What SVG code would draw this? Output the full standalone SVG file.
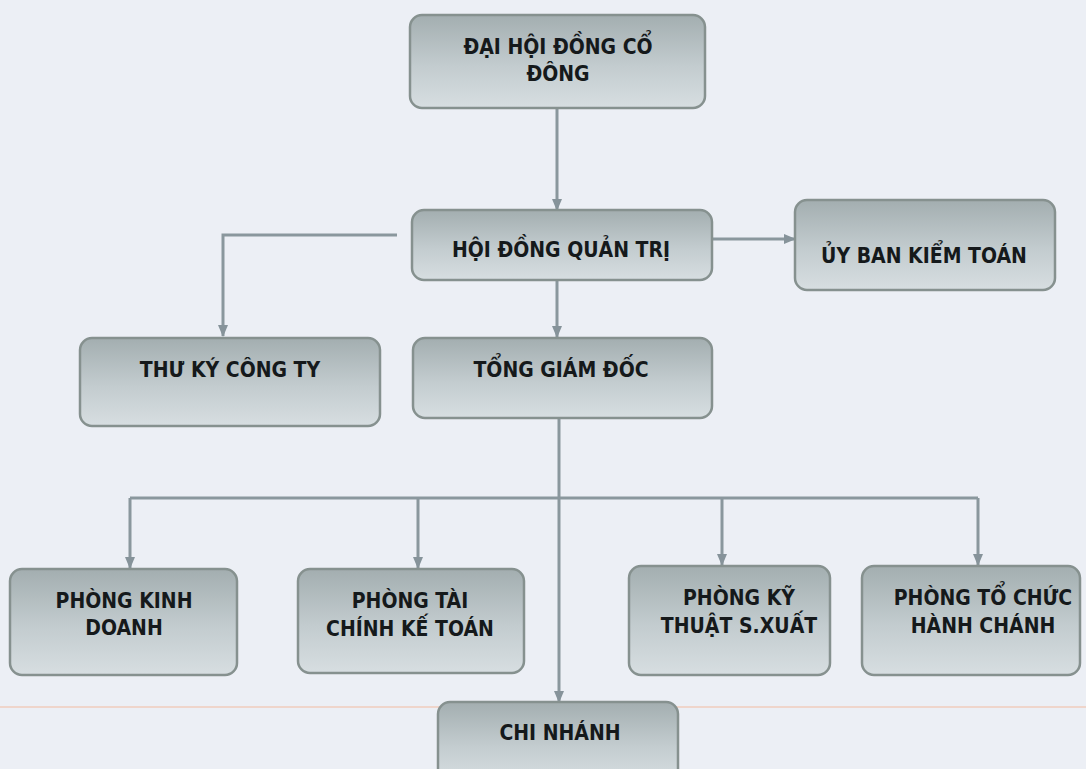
<svg xmlns="http://www.w3.org/2000/svg" width="1086" height="769" viewBox="0 0 1086 769">
<defs>
<linearGradient id="boxg" x1="0" y1="0" x2="0" y2="1">
<stop offset="0" stop-color="#a3aeb0"/>
<stop offset="0.55" stop-color="#c3cccf"/>
<stop offset="1" stop-color="#d7dee1"/>
</linearGradient>
<marker id="arr" markerUnits="userSpaceOnUse" markerWidth="12" markerHeight="12" viewBox="0 0 12 12" refX="11" refY="6" orient="auto">
<path d="M0,1 L12,6 L0,11 Z" fill="#86939a"/>
</marker>
<style>
.box{fill:url(#boxg);stroke:#86918f;stroke-width:2.5}
.lbl{font-family:"DejaVu Sans Condensed","DejaVu Sans",sans-serif;font-weight:bold;font-size:21px;fill:#15191b;text-anchor:middle}
.ln{fill:none;stroke:#8a979d;stroke-width:3}
.arrow{marker-end:url(#arr)}
</style>
</defs>
<rect x="0" y="0" width="1086" height="769" fill="#eceff5"/>
<line x1="0" y1="707" x2="1086" y2="707" stroke="#f0cdbd" stroke-width="1.5"/>
<g id="connectors">
<line class="ln arrow" x1="557" y1="108" x2="557" y2="210"/>
<line class="ln arrow" x1="712" y1="239" x2="795" y2="239"/>
<path class="ln arrow" d="M397,235 H223 V336"/>
<line class="ln arrow" x1="557" y1="280" x2="557" y2="337"/>
<line class="ln arrow" x1="559" y1="418" x2="559" y2="702"/>
<path class="ln" d="M130,498 H978"/>
<line class="ln arrow" x1="130" y1="498" x2="130" y2="568"/>
<line class="ln arrow" x1="418" y1="498" x2="418" y2="568"/>
<line class="ln arrow" x1="722" y1="498" x2="722" y2="565"/>
<line class="ln arrow" x1="978" y1="498" x2="978" y2="565"/>
</g>
<g id="dai-hoi-dong-co-dong">
<rect class="box" x="410" y="15" width="295" height="93" rx="12"/>
<text class="lbl" x="558" y="54">ĐẠI HỘI ĐỒNG CỔ</text>
<text class="lbl" x="558" y="81">ĐÔNG</text>
</g>
<g id="hoi-dong-quan-tri">
<rect class="box" x="412" y="210" width="300" height="70" rx="12"/>
<text class="lbl" x="561" y="257">HỘI ĐỒNG QUẢN TRỊ</text>
</g>
<g id="uy-ban-kiem-toan">
<rect class="box" x="795" y="200" width="260" height="90" rx="12"/>
<text class="lbl" x="924" y="263">ỦY BAN KIỂM TOÁN</text>
</g>
<g id="thu-ky-cong-ty">
<rect class="box" x="80" y="338" width="300" height="88" rx="12"/>
<text class="lbl" x="230" y="377">THƯ KÝ CÔNG TY</text>
</g>
<g id="tong-giam-doc">
<rect class="box" x="413" y="338" width="299" height="80" rx="12"/>
<text class="lbl" x="561" y="377">TỔNG GIÁM ĐỐC</text>
</g>
<g id="phong-kinh-doanh">
<rect class="box" x="10" y="569" width="227" height="106" rx="12"/>
<text class="lbl" x="124" y="608">PHÒNG KINH</text>
<text class="lbl" x="124" y="635">DOANH</text>
</g>
<g id="phong-tai-chinh-ke-toan">
<rect class="box" x="298" y="569" width="226" height="104" rx="12"/>
<text class="lbl" x="410" y="608">PHÒNG TÀI</text>
<text class="lbl" x="410" y="636">CHÍNH KẾ TOÁN</text>
</g>
<g id="phong-ky-thuat-san-xuat">
<rect class="box" x="629" y="566" width="201" height="109" rx="12"/>
<text class="lbl" x="739" y="605">PHÒNG KỸ</text>
<text class="lbl" x="739" y="633">THUẬT S.XUẤT</text>
</g>
<g id="phong-to-chuc-hanh-chanh">
<rect class="box" x="862" y="566" width="218" height="109" rx="12"/>
<text class="lbl" x="983" y="605">PHÒNG TỔ CHỨC</text>
<text class="lbl" x="983" y="633">HÀNH CHÁNH</text>
</g>
<g id="chi-nhanh">
<rect class="box" x="438" y="702" width="240" height="80" rx="12"/>
<text class="lbl" x="560" y="740">CHI NHÁNH</text>
</g>
</svg>
